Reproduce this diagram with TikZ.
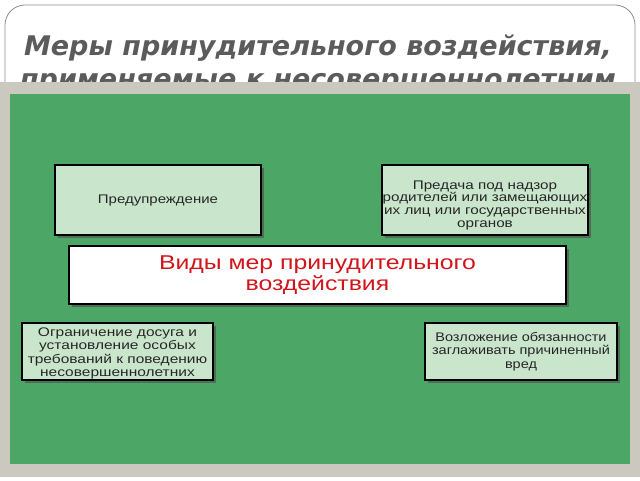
\documentclass[tikz,border=0pt]{standalone}
\usepackage{fontspec}
\setmainfont{Liberation Sans}
\newfontfamily\titlefont{DejaVu Sans}
\newfontfamily\boxfontA[FakeStretch=1.2]{Liberation Sans}
\newfontfamily\boxfontB[FakeStretch=1.22]{Liberation Sans}
\newfontfamily\boxfontC[FakeStretch=1.24]{Liberation Sans}
\newfontfamily\boxfontD[FakeStretch=1.16]{Liberation Sans}
\newfontfamily\headfont[FakeStretch=1.24]{Liberation Sans}
\usetikzlibrary{shadows}
\definecolor{panelGray}{HTML}{CBC8C0}
\definecolor{slideGreen}{HTML}{4CA665}
\definecolor{boxGreen}{HTML}{C9E6CC}
\definecolor{titleGray}{HTML}{5B5B5B}
\definecolor{headRed}{HTML}{D2151B}
\begin{document}
\begin{tikzpicture}[x=1pt, y=-1pt,
    boxStyle/.style={rectangle, draw=black, line width=1.2pt, fill=boxGreen, text=black!85, align=center, inner sep=0pt,
        drop shadow={shadow xshift=2.5pt, shadow yshift=-2.5pt, fill=black!70, opacity=0.6}},
    headStyle/.style={boxStyle, fill=white, text=headRed, font=\headfont\fontsize{20}{21}\selectfont}]
    \useasboundingbox (0,0) rectangle (640,480);
    \fill[white] (0,0) rectangle (640,480);

    % slide frame and title
    \begin{scope}
        \clip (0,0) rectangle (640,84);
        \draw[black!45, line width=0.8pt, rounded corners=20pt] (5,5) rectangle (635,200);
    \end{scope}
    \node[text=titleGray, align=center, font=\titlefont\bfseries\itshape\fontsize{27}{33}\selectfont] (title) at (318,64)
        {Меры принудительного воздействия,\\применяемые к несовершеннолетним};

    % panel
    \fill[panelGray] (0,82) rectangle (640,477);
    \fill[slideGreen] (10,94) rectangle (630,464);

    % boxes
    \node[boxStyle, minimum width=206, minimum height=70, font=\boxfontA\fontsize{12.5}{13}\selectfont] (warn_0) at (158, 200) {Предупреждение};
    \node[boxStyle, minimum width=206, minimum height=70, font=\boxfontB\fontsize{12.5}{12.7}\selectfont] (watch_0) at (485, 200) {\rule{0pt}{19pt}Предача под надзор\\родителей или замещающих\\их лиц или государственных\\органов};
    \node[headStyle, minimum width=497, minimum height=58] (kinds_0) at (317.5, 275) {Виды мер принудительного\\воздействия};
    \node[boxStyle, minimum width=191, minimum height=57, font=\boxfontC\fontsize{12.5}{13.5}\selectfont] (limit_0) at (117.5, 351.5) {\rule{0pt}{13pt}Ограничение досуга и\\установление особых\\требований к поведению\\несовершеннолетних};
    \node[boxStyle, minimum width=192, minimum height=57, font=\boxfontD\fontsize{12.5}{13.5}\selectfont] (repair_0) at (521, 351.5) {Возложение обязанности\\заглаживать причиненный\\вред};
\end{tikzpicture}
\end{document}
